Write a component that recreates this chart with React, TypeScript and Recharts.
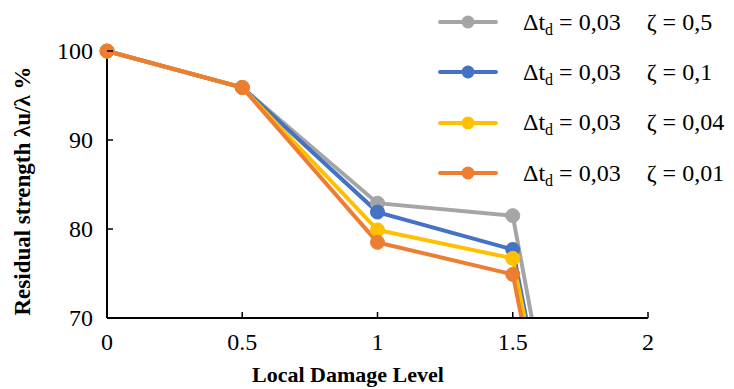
import { LineChart, Line, XAxis, YAxis, Legend } from "recharts";

const levels = [0, 0.5, 1, 1.5, 2];
const zeta05 = [100, 95.9, 82.9, 81.5, 0];
const zeta01 = [100, 95.9, 81.9, 77.7, 0];
const zeta004 = [100, 95.9, 79.9, 76.7, 0];
const zeta001 = [100, 95.9, 78.5, 74.9, 0];
const xTicks = [0, 0.5, 1, 1.5, 2];
const yTicks = [70, 80, 90, 100];

const series = [
  { key: "z05", values: zeta05, zeta: "0,5", color: "#A5A5A5" },
  { key: "z01", values: zeta01, zeta: "0,1", color: "#4472C4" },
  { key: "z004", values: zeta004, zeta: "0,04", color: "#FFC000" },
  { key: "z001", values: zeta001, zeta: "0,01", color: "#ED7D31" },
];

const data = levels.map((lv, i) => {
  const row: any = { level: lv };
  series.forEach((s) => (row[s.key] = s.values[i]));
  return row;
});

const FONT = "Liberation Serif";

function XTick({ x, y, payload }: any) {
  return (
    <g>
      <line x1={x} x2={x} y1={y} y2={y - 6} stroke="#000" strokeWidth={1.5} />
      <text x={x} y={y + 32} textAnchor="middle" style={{ fontFamily: FONT }} fontSize={24} fill="#000">
        {payload.value}
      </text>
    </g>
  );
}

function YTick({ x, y, payload }: any) {
  return (
    <g>
      <line x1={x} x2={x + 6} y1={y} y2={y} stroke="#000" strokeWidth={1.5} />
      <text x={x - 14} y={y} dy="0.35em" textAnchor="end" style={{ fontFamily: FONT }} fontSize={24} fill="#000">
        {payload.value}
      </text>
    </g>
  );
}

function LegendBox() {
  return (
    <div style={{ fontFamily: FONT, fontSize: 24, color: "#000" }}>
      {series.map((s) => (
        <div key={s.key} style={{ display: "flex", alignItems: "center", height: 50.3 }}>
          <svg width={60} height={20}>
            <line x1={2} x2={58} y1={10} y2={10} stroke={s.color} strokeWidth={4} strokeLinecap="round" />
            <circle cx={30} cy={10} r={6.5} fill={s.color} />
          </svg>
          <span style={{ marginLeft: 25, whiteSpace: "pre" }}>
            Δt<span style={{ fontSize: 16, position: "relative", top: 5 }}>d</span> = 0,03
            <span style={{ marginLeft: 26 }}>ζ = {s.zeta}</span>
          </span>
        </div>
      ))}
    </div>
  );
}

export default function App() {
  return (
    <div style={{ position: "relative", width: 734, height: 389, background: "#fff", fontFamily: FONT }}>
      <style>{"body{margin:0}"}</style>
      <LineChart
        width={734}
        height={389}
        data={data}
        margin={{ top: 51, right: 86, left: 47, bottom: 31 }}
        style={{ fontFamily: FONT }}
      >
        <XAxis
          dataKey="level"
          type="number"
          domain={[0, 2]}
          ticks={xTicks}
          height={40}
          tickSize={0}
          tickMargin={0}
          tickLine={false}
          axisLine={{ stroke: "#000", strokeWidth: 2 }}
          tick={<XTick />}
        />
        <YAxis
          type="number"
          domain={[70, 100]}
          ticks={yTicks}
          allowDataOverflow
          width={60}
          tickSize={0}
          tickMargin={0}
          tickLine={false}
          axisLine={{ stroke: "#000", strokeWidth: 2 }}
          tick={<YTick />}
        />
        <Legend
          layout="vertical"
          align="center"
          verticalAlign="middle"
          wrapperStyle={{ top: -3, left: 438, width: 296 }}
          content={() => <LegendBox />}
        />
        {series.map((s) => (
          <Line
            key={s.key}
            dataKey={s.key}
            stroke={s.color}
            strokeWidth={4}
            dot={{ r: 7, fill: s.color, stroke: s.color, strokeWidth: 1, clipDot: false }}
            isAnimationActive={false}
          />
        ))}
      </LineChart>
      <div
        style={{
          position: "absolute",
          left: 23,
          top: 191,
          transform: "translate(-50%, -50%) rotate(-90deg)",
          whiteSpace: "nowrap",
          fontWeight: "bold",
          fontSize: 23,
        }}
      >
        Residual strength λu/λ %
      </div>
      <div
        style={{
          position: "absolute",
          left: 348,
          top: 375,
          transform: "translate(-50%, -50%)",
          whiteSpace: "nowrap",
          fontWeight: "bold",
          fontSize: 22,
        }}
      >
        Local Damage Level
      </div>
    </div>
  );
}
